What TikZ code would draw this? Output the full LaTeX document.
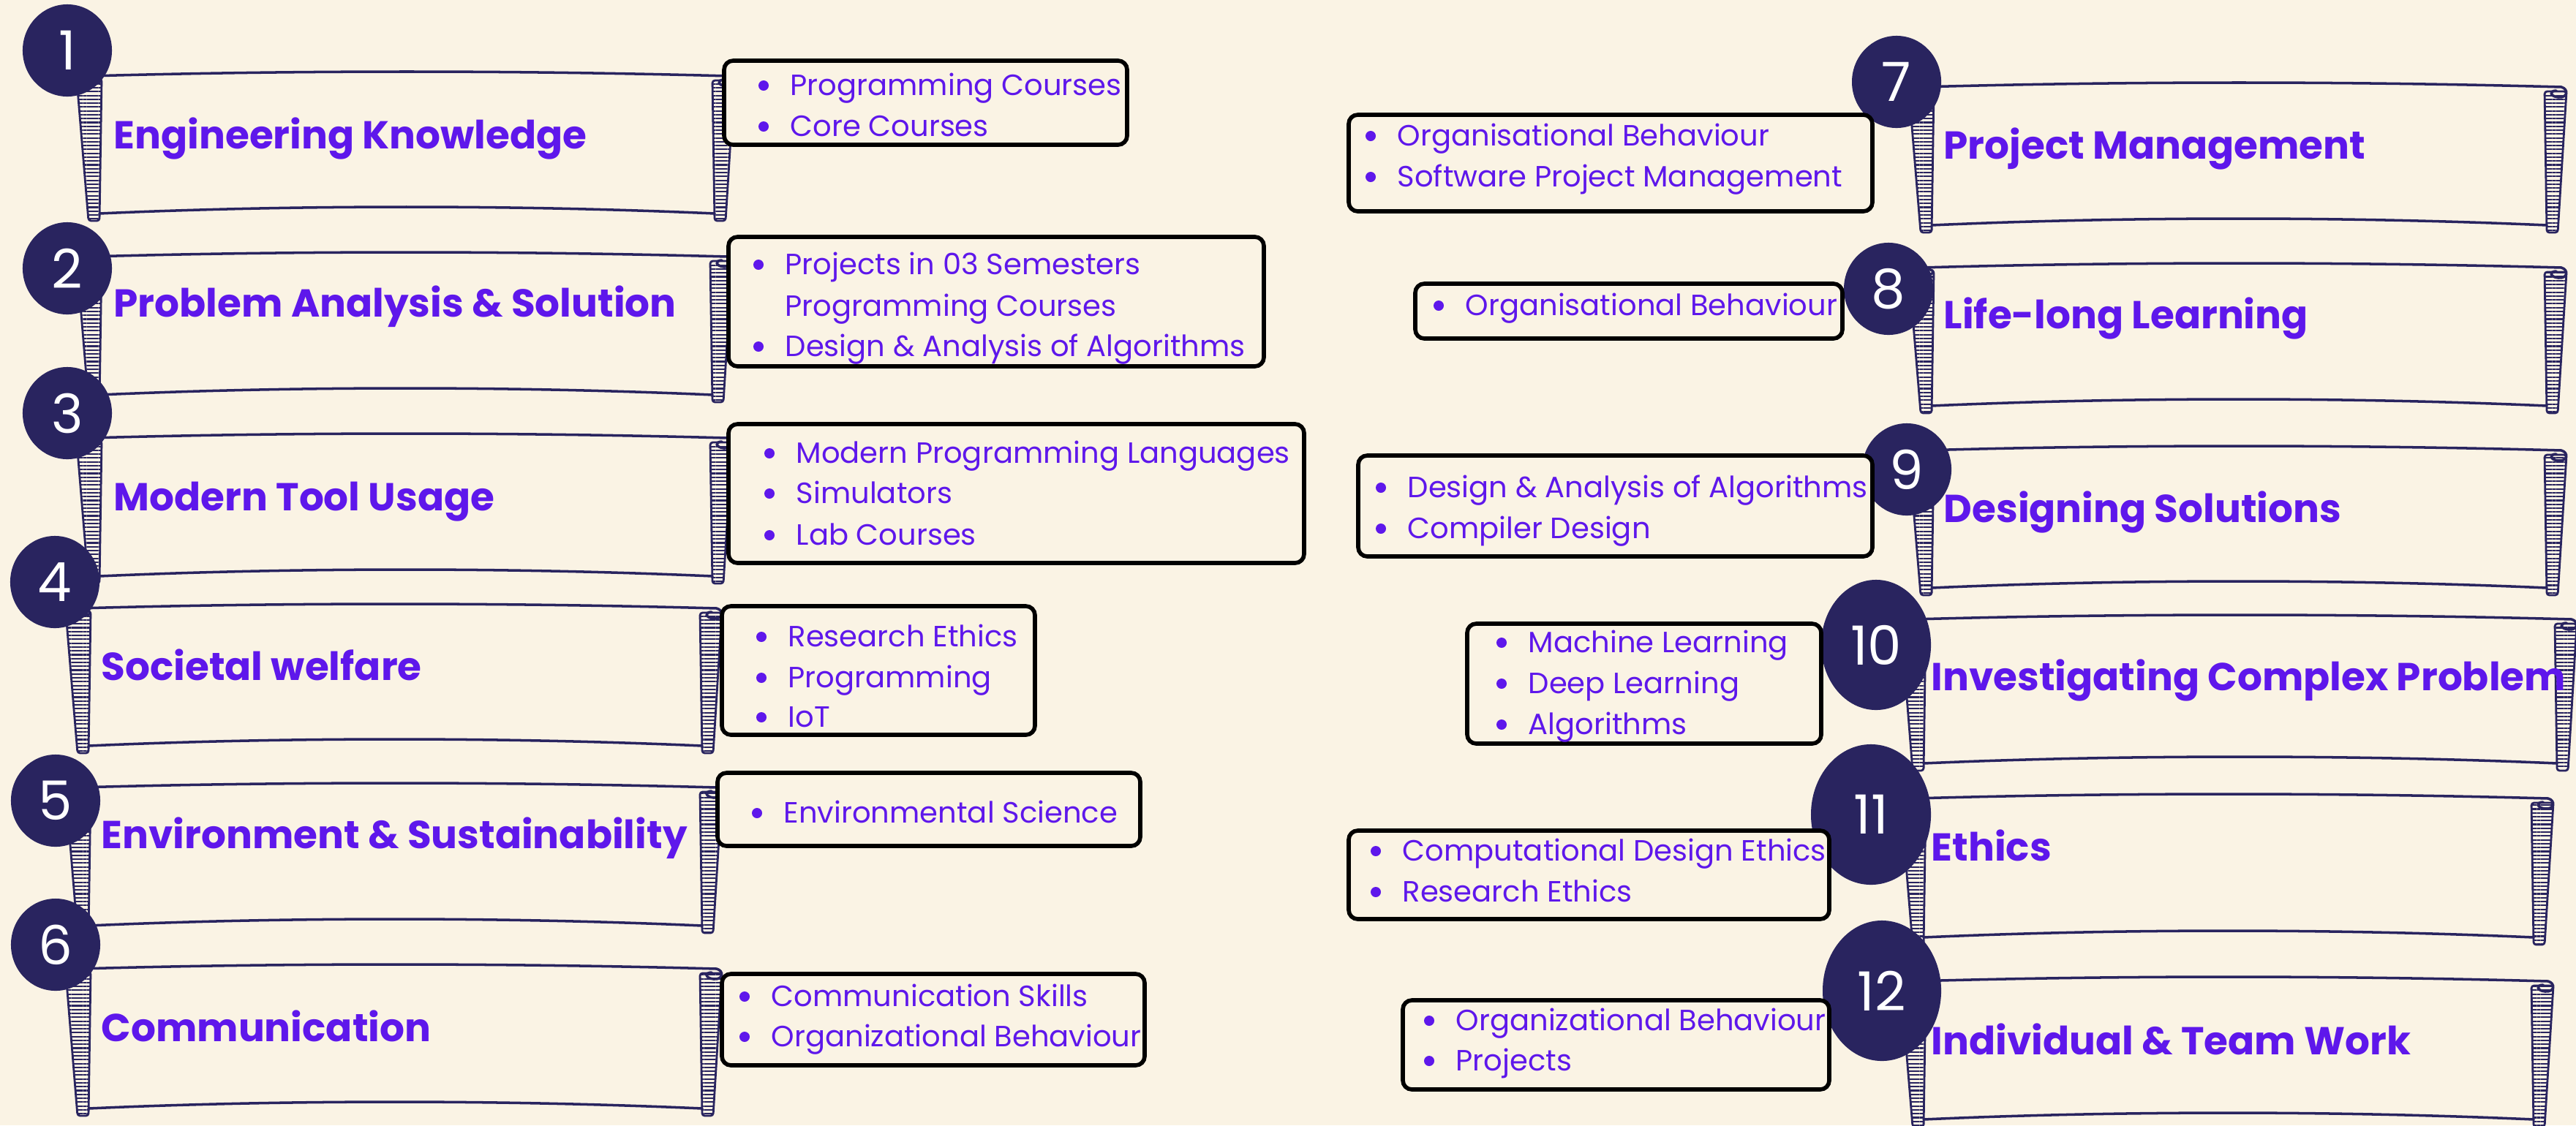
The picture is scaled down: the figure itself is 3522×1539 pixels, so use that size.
\documentclass[tikz,border=0pt]{standalone}
\usepackage{fontspec}
\setmainfont{Poppins}
\usetikzlibrary{shapes.geometric,patterns.meta}
\definecolor{cream}{HTML}{FAF3E4}
\definecolor{navy}{HTML}{29245F}
\definecolor{purp}{HTML}{5E17EB}

% scroll banner: left x, right x, top y, bottom y
\newcommand\scroll[4]{%
  \draw[roller] (#1,#3+12) -- (#1+34,#3+10) -- (#1+31,#4) -- (#1+16,#4) -- cycle;
  \draw[roller] (#2-31,#3+12) -- (#2-1,#3+12) -- (#2-13,#4) -- (#2-28,#4) -- cycle;
  \draw[rim,fill=cream] (#1+17,#3+12) ellipse [x radius=0.16cm, y radius=0.05cm];
  \draw[rim] (#1+17,#3+6) .. controls (#1+300,#3-2) and (#2-300,#3-2) .. (#2-8,#3+6)
    .. controls (#2+2,#3+9) and (#2+1,#3+21) .. (#2-12,#3+20)
    .. controls (#2-24,#3+19) and (#2-25,#3+11) .. (#2-15,#3+11);
  \draw[rim] (#1+31,#4-10) .. controls (#1+300,#4-22) and (#2-300,#4-22) .. (#2-28,#4-10);
}
% one line of a course box: name, x, baseline, text
\newcommand\entry[4]{%
  \fill[purp] (#2-36,#3-13) circle (0.07cm);
  \node[item] (#1) at (#2,#3) {#4};
}

\begin{document}
\begin{tikzpicture}[x=0.01cm,y=-0.01cm,
  rim/.style={draw=navy,line width=1pt,line cap=round},
  roller/.style={draw=navy,line width=0.8pt,rounded corners=1pt,
    pattern={Lines[angle=0,distance=1.5pt,line width=0.6pt]},pattern color=navy},
  num/.style={ellipse,fill=navy,text=white,inner sep=0pt,minimum width=1.22cm,
    minimum height=1.26cm,font=\fontsize{21}{21}\selectfont},
  title/.style={anchor=base west,text=purp,inner sep=0pt,
    font=\bfseries\fontsize{15.15}{18}\selectfont},
  item/.style={anchor=base west,text=purp,inner sep=0pt,
    font=\fontsize{11.4}{13}\selectfont},
  box/.style={draw=black,line width=1.6pt,rounded corners=3.5pt,fill=cream}]

\fill[cream] (0,0) rectangle (3522,1539);
\useasboundingbox (0,0) rectangle (3522,1539);

% banners
\scroll{105}{1005}{98}{302}
\scroll{105}{1002}{345}{550}
\scroll{105}{1002}{593}{798}
\scroll{90}{988}{826}{1030}
\scroll{90}{988}{1071}{1276}
\scroll{90}{988}{1319}{1526}
\scroll{2610}{3510}{113}{318}
\scroll{2610}{3510}{360}{565}
\scroll{2610}{3510}{610}{814}
\scroll{2599}{3524}{841}{1054}
\scroll{2599}{3492}{1086}{1292}
\scroll{2599}{3492}{1336}{1541}

\node[title] (t1) at (155,203) {Engineering Knowledge};
\node[title] (t2) at (155,433) {Problem Analysis \& Solution};
\node[title] (t3) at (155,698) {Modern Tool Usage};
\node[title] (t4) at (138,930) {Societal welfare};
\node[title] (t5) at (138,1160) {Environment \& Sustainability};
\node[title] (t6) at (138,1424) {Communication};
\node[title] (t7) at (2657,217) {Project Management};
\node[title] (t8) at (2657,449) {Life-long Learning};
\node[title] (t9) at (2657,714) {Designing Solutions};
\node[title] (t10) at (2640,944) {Investigating Complex Problem};
\node[title] (t11) at (2640,1177) {Ethics};
\node[title] (t12) at (2640,1442) {Individual \& Team Work};

% numbers
\node[num] (n1) at (92,69) {1};
\node[num] (n2) at (92,367) {2};
\node[num] (n3) at (92,565) {3};
\node[num] (n4) at (75,796) {4};
\node[num] (n5) at (76,1095) {5};
\node[num] (n6) at (76,1292) {6};
\node[num] (n7) at (2593,112) {7};
\node[num] (n8) at (2582,395) {8};
\node[num] (n9) at (2607,642) {9};
\node[num,minimum width=1.5cm,minimum height=1.78cm] (n10) at (2565,882) {10};
\node[num,minimum width=1.64cm,minimum height=1.92cm] (n11) at (2558,1114) {11};
\node[num,minimum width=1.62cm,minimum height=1.92cm] (n12) at (2573,1355) {12};

% course boxes
\draw[box] (990,83) rectangle (1541,198);
\entry{b1a}{1080}{130}{Programming Courses}
\entry{b1b}{1080}{186}{Core Courses}

\draw[box] (996,324) rectangle (1728,501);
\entry{b2a}{1073}{375}{Projects in 03 Semesters}
\node[item] (b2b) at (1073,432) {Programming Courses};
\entry{b2c}{1073}{487}{Design \& Analysis of Algorithms}

\draw[box] (996,580) rectangle (1783,770);
\entry{b3a}{1088}{633}{Modern Programming Languages}
\entry{b3b}{1088}{688}{Simulators}
\entry{b3c}{1088}{745}{Lab Courses}

\draw[box] (987,829) rectangle (1415,1005);
\entry{b4a}{1077}{884}{Research Ethics}
\entry{b4b}{1077}{940}{Programming}
\entry{b4c}{1077}{994}{IoT}

\draw[box] (981,1057) rectangle (1559,1157);
\entry{b5a}{1071}{1125}{Environmental Science}

\draw[box] (987,1332) rectangle (1565,1457);
\entry{b6a}{1054}{1376}{Communication Skills}
\entry{b6b}{1054}{1431}{Organizational Behaviour}

\draw[box] (1844,157) rectangle (2560,289);
\entry{b7a}{1910}{199}{Organisational Behaviour}
\entry{b7b}{1910}{255}{Software Project Management}

\draw[box] (1935,388) rectangle (2519,463);
\entry{b8a}{2003}{431}{Organisational Behaviour}

\draw[box] (1857,623) rectangle (2560,761);
\entry{b9a}{1924}{680}{Design \& Analysis of Algorithms}
\entry{b9b}{1924}{736}{Compiler Design}

\draw[box] (2006,853) rectangle (2490,1017);
\entry{b10a}{2089}{892}{Machine Learning}
\entry{b10b}{2089}{948}{Deep Learning}
\entry{b10c}{2089}{1004}{Algorithms}

\draw[box] (1844,1136) rectangle (2501,1257);
\entry{b11a}{1917}{1177}{Computational Design Ethics}
\entry{b11b}{1917}{1233}{Research Ethics}

\draw[box] (1918,1368) rectangle (2501,1490);
\entry{b12a}{1990}{1409}{Organizational Behaviour}
\entry{b12b}{1990}{1464}{Projects}
\end{tikzpicture}
\end{document}
